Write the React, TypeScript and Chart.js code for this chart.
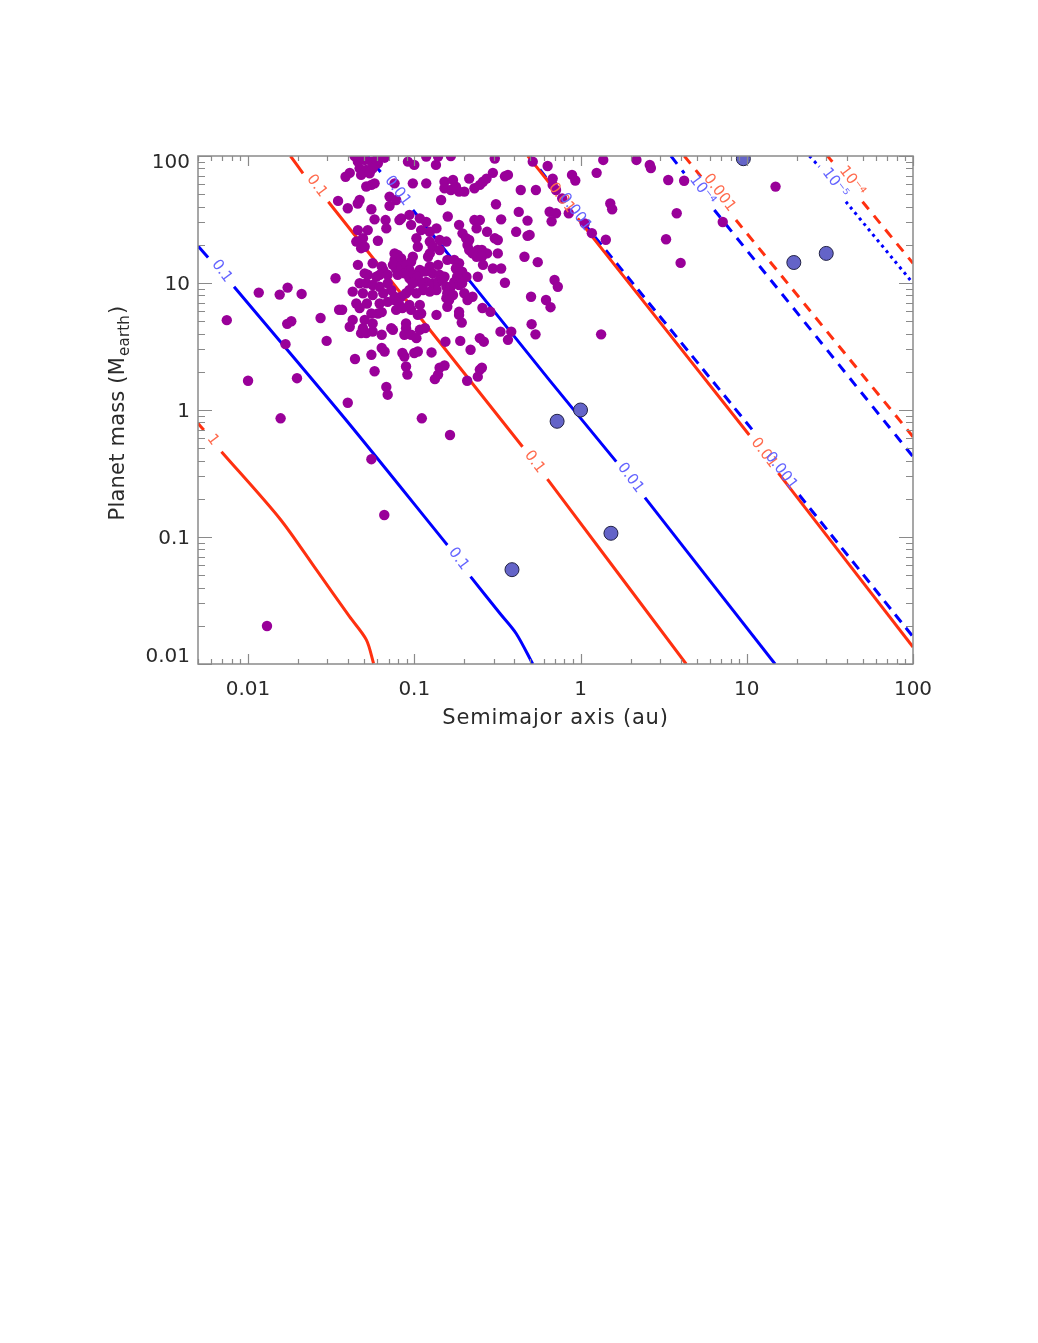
import React, { useEffect, useRef } from "react";
import { Chart, registerables } from "chart.js";

Chart.register(...registerables);

// ---------------- axes ----------------
const xRange = [0.005, 100];
const yRange = [0.01, 100];
const xTicks = [0.01, 0.1, 1, 10, 100];
const xTickLabels = ["0.01", "0.1", "1", "10", "100"];
const yTicks = [0.01, 0.1, 1, 10, 100];
const yTickLabels = ["0.01", "0.1", "1", "10", "100"];
const xTitle = "Semimajor axis (au)";
const yTitleMain = "Planet mass (M";
const yTitleSub = "earth";
const yTitleEnd = ")";

// ---------------- exoplanets (a [au], M [M_earth]) ----------------
const exoplanets: [number, number][] = [
  [0.00745, 5.1], [0.0116, 8.4], [0.0155, 8.1], [0.0173, 9.2], [0.021, 8.2], [0.0273, 5.3],
  [0.0172, 4.77], [0.0182, 5.0], [0.0297, 3.5], [0.0168, 3.3], [0.01, 1.7], [0.0197, 1.78],
  [0.0157, 0.86], [0.0336, 10.9], [0.0348, 44.3], [0.0386, 68.6], [0.0409, 73.6], [0.0398, 1.14],
  [0.0552, 0.41], [0.066, 0.149], [0.013, 0.0199], [0.0353, 6.16], [0.0368, 6.16], [0.044, 2.52],
  [0.111, 0.86], [0.164, 0.636],
  [0.0458, 90.3], [0.0503, 93.1], [0.0552, 90.3], [0.0604, 87.5], [0.0469, 80.0], [0.0514, 77.6],
  [0.0563, 80.0], [0.0479, 71.0], [0.0539, 73.2], [0.0591, 93.1], [0.0437, 100], [0.0663, 97],
  [0.048, 98],
  [0.0514, 57.5], [0.0552, 59.2], [0.0577, 60.9], [0.0761, 60.9], [0.0916, 90.3], [0.1, 85.1],
  [0.118, 99], [0.135, 85.1], [0.139, 99], [0.098, 60.9], [0.118, 60.9], [0.152, 62.7],
  [0.0398, 38.8], [0.0457, 42.3], [0.0469, 45.0], [0.0552, 38.1], [0.071, 47.9], [0.0778, 45.0],
  [0.071, 40.5], [0.0577, 31.7], [0.0672, 31.3], [0.0679, 26.9], [0.0814, 31.3], [0.0834, 32.3],
  [0.0935, 34.4], [0.0957, 28.7],
  [0.108, 32.3], [0.118, 30.3], [0.11, 26.1], [0.124, 25.3], [0.136, 26.9], [0.145, 45.0],
  [0.159, 33.4], [0.0458, 26.1], [0.0525, 26.1], [0.0491, 22.5], [0.0448, 21.2], [0.0479, 18.8],
  [0.0503, 19.3], [0.0604, 21.5], [0.103, 22.5], [0.105, 19.3], [0.124, 21.2], [0.129, 19.3],
  [0.142, 21.8], [0.0761, 17.1], [0.0795, 16.6], [0.0761, 15.2], [0.0834, 15.6], [0.098, 16.1],
  [0.0957, 14.7], [0.121, 16.1], [0.124, 17.1], [0.142, 18.2],
  [0.0562, 14.3], [0.0458, 13.9], [0.0637, 13.5], [0.0651, 12.66], [0.0744, 13.9], [0.0778, 12.9],
  [0.0834, 13.5], [0.0892, 13.9], [0.0935, 12.66], [0.0872, 11.9], [0.0795, 11.6], [0.0935, 10.9],
  [0.1, 11.6], [0.108, 12.66], [0.105, 11.2], [0.116, 12.3], [0.124, 13.5], [0.129, 11.9],
  [0.139, 13.9], [0.142, 11.6], [0.118, 10.2], [0.108, 10.2], [0.098, 9.95], [0.129, 9.95],
  [0.139, 10.2], [0.148, 10.55], [0.156, 9.35], [0.136, 8.81], [0.124, 8.55], [0.113, 8.81],
  [0.103, 8.3], [0.0935, 8.81], [0.0892, 8.3], [0.0834, 7.8], [0.0761, 7.8], [0.0503, 11.9],
  [0.0525, 11.6], [0.0591, 11.2], [0.0619, 11.6], [0.0692, 11.6], [0.0469, 9.95], [0.0514, 9.95],
  [0.0562, 9.64], [0.0619, 9.35], [0.0692, 9.95], [0.0426, 8.55], [0.0491, 8.3], [0.0562, 8.05],
  [0.0651, 8.3], [0.0727, 8.81], [0.158, 15.2], [0.152, 11.2], [0.158, 8.3],
  [0.156, 7.6], [0.0448, 6.9], [0.0469, 6.35], [0.0519, 6.9], [0.0619, 6.9], [0.0637, 5.9],
  [0.0604, 5.75], [0.0692, 7.1], [0.0761, 7.35], [0.0814, 6.72], [0.0778, 6.14], [0.0848, 6.35],
  [0.0935, 6.72], [0.0957, 6.14], [0.108, 6.72], [0.11, 5.75], [0.105, 5.61], [0.136, 5.61],
  [0.158, 6.5], [0.0552, 5.75], [0.0426, 5.12], [0.0409, 4.52], [0.0503, 5.12], [0.0562, 4.8],
  [0.0491, 4.41], [0.0479, 4.03], [0.0514, 4.03], [0.0562, 4.15], [0.0637, 3.91], [0.0727, 4.41],
  [0.0744, 4.28], [0.0892, 4.8], [0.0892, 4.41], [0.0872, 3.91], [0.0957, 3.91], [0.103, 3.68],
  [0.108, 4.28], [0.116, 4.41], [0.154, 3.45], [0.0637, 3.08], [0.0663, 2.89], [0.0552, 2.72],
  [0.0848, 2.81], [0.0872, 2.64], [0.1, 2.81], [0.105, 2.89], [0.127, 2.84], [0.0577, 2.02],
  [0.0892, 2.2], [0.0909, 1.9], [0.142, 2.15], [0.152, 2.24], [0.139, 1.9], [0.133, 1.75],
  [0.0679, 1.52], [0.0692, 1.32],
  [0.166, 100], [0.305, 95.5], [0.152, 55.7], [0.166, 54.0], [0.178, 57.4], [0.171, 64.7],
  [0.186, 52.4], [0.2, 52.4], [0.214, 66.4], [0.23, 55.7], [0.248, 59.2], [0.259, 62.7],
  [0.272, 66.4], [0.297, 73.7], [0.351, 69.2], [0.366, 71.0], [0.437, 54.0], [0.539, 54.0],
  [0.31, 41.7], [0.186, 28.7], [0.23, 31.3], [0.248, 31.3], [0.237, 26.9], [0.274, 25.3],
  [0.333, 31.7], [0.425, 36.3], [0.48, 31.0], [0.41, 25.3], [0.48, 23.5], [0.494, 23.9],
  [0.305, 22.5], [0.318, 21.8], [0.195, 24.6], [0.205, 22.5], [0.214, 21.8], [0.209, 19.9],
  [0.214, 18.2], [0.224, 17.1], [0.241, 18.2], [0.255, 18.2], [0.274, 17.1], [0.237, 16.1],
  [0.255, 16.1], [0.318, 17.1], [0.156, 21.2], [0.46, 16.1], [0.553, 14.6], [0.259, 13.9],
  [0.297, 13.0], [0.333, 13.0], [0.174, 15.2], [0.186, 14.3], [0.178, 13.0], [0.194, 12.3],
  [0.206, 11.2], [0.181, 11.2], [0.174, 10.2], [0.186, 9.64], [0.194, 9.95], [0.241, 11.2],
  [0.351, 10.05], [0.166, 9.35], [0.162, 8.55], [0.2, 8.3], [0.224, 7.8], [0.504, 7.8],
  [0.62, 7.35], [0.698, 10.55], [0.73, 9.35],
  [0.171, 8.05], [0.162, 7.35], [0.186, 5.93], [0.186, 5.61], [0.193, 4.88], [0.209, 7.35],
  [0.257, 6.35], [0.287, 5.93], [0.66, 6.45], [0.508, 4.74], [0.536, 3.94], [0.33, 4.14],
  [0.366, 3.57], [0.383, 4.14], [0.189, 3.5], [0.218, 2.98], [0.248, 3.68], [0.262, 3.45],
  [0.248, 2.08], [0.255, 2.15], [0.241, 1.83], [0.208, 1.7],
  [0.516, 90.3], [0.634, 83.4], [0.68, 66.4], [0.68, 59.2], [0.712, 54.0], [0.889, 71.0],
  [0.93, 64.1], [1.25, 73.7], [1.37, 93.1], [0.776, 46.4], [0.652, 36.4], [0.712, 35.4],
  [0.67, 30.6], [0.85, 35.4], [1.06, 29.5], [1.17, 24.7], [1.42, 21.9], [1.51, 42.3],
  [1.55, 38.1], [2.17, 93.1], [2.61, 85.1], [2.65, 80.4], [3.37, 64.7], [4.2, 63.9],
  [3.79, 35.4], [3.27, 22.1], [4.0, 14.4], [7.17, 30.2], [14.9, 57.4], [1.33, 3.94],
];

// ---------------- solar system planets ----------------
const solarPlanets: [number, number][] = [
  [0.387, 0.0553], [0.723, 0.815], [1.0, 1.0], [1.524, 0.107],
  [9.54, 95.2], [19.19, 14.5], [30.07, 17.1],
];

// ---------------- contour lines (segments broken by labels) ----------------
type Seg = [number, number][];
const redSolid1: Seg[] = [
  [[0.005, 0.785], [0.00542, 0.697]],
  [[0.00692, 0.47], [0.0155, 0.14], [0.0258, 0.055], [0.0408, 0.0236], [0.0515, 0.0155], [0.0569, 0.0101]],
];
const redSolid01: Seg[] = [
  [[0.018, 100], [0.0214, 73.1]],
  [[0.0304, 43.6], [0.448, 0.514]],
  [[0.632, 0.286], [4.32, 0.01]],
];
const redSolid001: Seg[] = [
  [[0.482, 100], [0.652, 61.0]],
  [[0.962, 32.3], [10.35, 0.635]],
  [[15.5, 0.318], [100, 0.0136]],
];
const blueSolid01: Seg[] = [
  [[0.005, 19.6], [0.00575, 15.9]],
  [[0.00824, 9.35], [0.0381, 0.861], [0.158, 0.0865]],
  [[0.218, 0.0487], [0.327, 0.0251], [0.41, 0.0174], [0.516, 0.01]],
];
const blueSolid001: Seg[] = [
  [[0.0524, 100], [0.0627, 74.8]],
  [[0.0981, 37.6], [0.65, 1.72], [1.64, 0.392]],
  [[2.44, 0.204], [14.8, 0.01]],
];
const blueDashed0001: Seg[] = [
  [[0.493, 100], [0.708, 54.0]],
  [[1.055, 29.2], [11.2, 0.659]],
  [[20.7, 0.214], [100, 0.0164]],
];
const redDashed0001: Seg[] = [
  [[4.21, 100], [5.31, 68.7]],
  [[8.61, 31.3], [100, 0.616]],
];
const blueDashed1e4: Seg[] = [
  [[3.5, 100], [4.21, 73.1]],
  [[6.38, 37.6], [100, 0.429]],
];
const redDashed1e4: Seg[] = [
  [[30.6, 100], [32.7, 90.2]],
  [[49.7, 43.6], [100, 14.3]],
];
const blueDotted1e5: Seg[] = [
  [[23.8, 100], [27.3, 82.4]],
  [[39.5, 43.6], [100, 9.95]],
];

// ---------------- contour labels ----------------
const redLabels = [
  { t: "1", x: 0.00613, y: 0.58 },
  { t: "0.1", x: 0.0259, y: 58.0 },
  { t: "0.1", x: 0.528, y: 0.39 },
  { t: "0.01", x: 0.768, y: 46.7 },
  { t: "0.01", x: 12.7, y: 0.459 },
  { t: "0.001", x: 6.84, y: 51.2 },
  { t: "10\u207B\u2074", x: 43.0, y: 63.5 },
];
const blueLabels = [
  { t: "0.1", x: 0.00695, y: 12.4 },
  { t: "0.1", x: 0.1846, y: 0.0671 },
  { t: "0.01", x: 0.0794, y: 53.0 },
  { t: "0.01", x: 1.995, y: 0.292 },
  { t: "0.001", x: 0.931, y: 36.2 },
  { t: "0.001", x: 16.1, y: 0.331 },
  { t: "10\u207B\u2074", x: 5.4, y: 54.0 },
  { t: "10\u207B\u2075", x: 34.0, y: 61.3 },
];

// ---------------- styles ----------------
const RED = "#ff3010";
const BLUE = "#0000ff";
const RED_LABEL = "#ff6a4d";
const BLUE_LABEL = "#6464ff";
const PURPLE = "#990099";
const SOLAR_FILL = "#6464c8";
const AXIS_COLOR = "#8a8a8a";
const TEXT_COLOR = "#2a2a2a";
const FONT = '"DejaVu Sans", sans-serif';
const LABEL_ANGLE = (53 * Math.PI) / 180;

const decorPlugin = {
  id: "decor",
  afterDatasetsDraw(chart: any) {
    const { ctx, scales } = chart;
    const xs = scales.x;
    const ys = scales.y;
    ctx.save();
    ctx.font = `15px ${FONT}`;
    ctx.textAlign = "center";
    ctx.textBaseline = "middle";
    const groups: [typeof redLabels, string][] = [
      [redLabels, RED_LABEL],
      [blueLabels, BLUE_LABEL],
    ];
    for (const [list, color] of groups) {
      ctx.fillStyle = color;
      for (const l of list) {
        const px = xs.getPixelForValue(l.x);
        const py = ys.getPixelForValue(l.y);
        ctx.save();
        ctx.translate(px, py);
        ctx.rotate(LABEL_ANGLE);
        ctx.fillText(l.t, 0, 0);
        ctx.restore();
      }
    }
    ctx.restore();
  },
  afterDraw(chart: any) {
    const { ctx, chartArea: a, scales } = chart;
    const xs = scales.x;
    const ys = scales.y;
    ctx.save();
    ctx.strokeStyle = AXIS_COLOR;
    ctx.lineWidth = 1.5;
    ctx.strokeRect(a.left, a.top, a.right - a.left, a.bottom - a.top);
    ctx.lineWidth = 1.2;
    ctx.beginPath();
    for (let d = -3; d <= 2; d++) {
      for (let k = 1; k <= 9; k++) {
        const v = k * Math.pow(10, d);
        if (v >= xRange[0] * 0.999 && v <= xRange[1] * 1.001) {
          const px = Math.round(xs.getPixelForValue(v)) + 0.5;
          const len = k === 1 ? 10 : 5;
          ctx.moveTo(px, a.bottom);
          ctx.lineTo(px, a.bottom - len);
          ctx.moveTo(px, a.top);
          ctx.lineTo(px, a.top + len);
        }
        if (v >= yRange[0] * 0.999 && v <= yRange[1] * 1.001) {
          const py = Math.round(ys.getPixelForValue(v)) + 0.5;
          const len = k === 1 ? 14 : 7;
          ctx.moveTo(a.left, py);
          ctx.lineTo(a.left + len, py);
          ctx.moveTo(a.right, py);
          ctx.lineTo(a.right - len, py);
        }
      }
    }
    ctx.stroke();

    // y tick labels (kept inside the axis span like the original)
    ctx.fillStyle = TEXT_COLOR;
    ctx.font = `20px ${FONT}`;
    ctx.textAlign = "right";
    ctx.textBaseline = "middle";
    yTicks.forEach((v, i) => {
      const py = ys.getPixelForValue(v) + 1.5;
      const cy = Math.min(Math.max(py, a.top + 7), a.bottom - 7);
      ctx.fillText(yTickLabels[i], a.left - 8, cy);
    });

    // axis titles
    ctx.textBaseline = "alphabetic";
    (ctx as any).letterSpacing = "0.8px";
    ctx.font = `21px ${FONT}`;
    ctx.textAlign = "center";
    ctx.fillText(xTitle, (a.left + a.right) / 2, 724);

    // y title with subscript
    (ctx as any).letterSpacing = "0.2px";
    const mainFont = `21px ${FONT}`;
    const subFont = `15px ${FONT}`;
    ctx.font = mainFont;
    const w1 = ctx.measureText(yTitleMain).width;
    const w3 = ctx.measureText(yTitleEnd).width;
    ctx.font = subFont;
    const w2 = ctx.measureText(yTitleSub).width;
    const total = w1 + w2 + w3 + 2;
    ctx.save();
    ctx.translate(124, (a.top + a.bottom) / 2 + 3);
    ctx.rotate(-Math.PI / 2);
    ctx.textAlign = "left";
    let x0 = -total / 2;
    ctx.font = mainFont;
    ctx.fillText(yTitleMain, x0, 0);
    x0 += w1 + 1;
    ctx.font = subFont;
    ctx.fillText(yTitleSub, x0, 5);
    x0 += w2 + 1;
    ctx.font = mainFont;
    ctx.fillText(yTitleEnd, x0, 0);
    ctx.restore();
    ctx.restore();
  },
};

function lineSets(segs: Seg[], color: string, dash: number[]) {
  return segs.map((seg) => ({
    type: "line" as const,
    data: seg.map(([x, y]) => ({ x, y })),
    borderColor: color,
    borderWidth: 3,
    borderDash: dash,
    borderCapStyle: "butt" as const,
    pointRadius: 0,
    fill: false,
    tension: 0.3,
    order: 2,
  }));
}

export default function App() {
  const ref = useRef<HTMLCanvasElement | null>(null);

  useEffect(() => {
    if (!ref.current) return;
    const datasets: any[] = [
      {
        type: "scatter",
        data: solarPlanets.map(([x, y]) => ({ x, y })),
        backgroundColor: SOLAR_FILL,
        borderColor: "#222244",
        borderWidth: 1,
        pointRadius: 7,
        order: 0,
      },
      {
        type: "scatter",
        data: exoplanets.map(([x, y]) => ({ x, y })),
        backgroundColor: PURPLE,
        borderWidth: 0,
        pointRadius: 5.2,
        order: 1,
      },
      ...lineSets(redSolid1, RED, []),
      ...lineSets(redSolid01, RED, []),
      ...lineSets(redSolid001, RED, []),
      ...lineSets(blueSolid01, BLUE, []),
      ...lineSets(blueSolid001, BLUE, []),
      ...lineSets(blueDashed0001, BLUE, [10, 7]),
      ...lineSets(redDashed0001, RED, [10, 8]),
      ...lineSets(blueDashed1e4, BLUE, [10, 8]),
      ...lineSets(redDashed1e4, RED, [10, 8]),
      ...lineSets(blueDotted1e5, BLUE, [3, 4]),
    ];

    const chart = new Chart(ref.current, {
      type: "scatter",
      data: { datasets },
      options: {
        animation: false,
        responsive: false,
        devicePixelRatio: 1,
        events: [],
        layout: { padding: { left: 0, right: 125, top: 156, bottom: 0 } },
        plugins: {
          legend: { display: false },
          tooltip: { enabled: false },
          title: { display: false },
        },
        scales: {
          x: {
            type: "logarithmic",
            position: "bottom",
            min: xRange[0],
            max: xRange[1],
            grid: { display: false, drawTicks: false },
            border: { display: false },
            ticks: {
              font: { family: FONT, size: 20 },
              color: TEXT_COLOR,
              padding: 14,
              maxRotation: 0,
              autoSkip: false,
              callback: (v: any) => {
                const i = xTicks.indexOf(Number(v));
                return i >= 0 ? xTickLabels[i] : "";
              },
            },
            afterBuildTicks: (s: any) => {
              s.ticks = xTicks.map((v) => ({ value: v }));
            },
            afterFit: (s: any) => {
              s.height = 679;
            },
          },
          y: {
            type: "logarithmic",
            position: "left",
            min: yRange[0],
            max: yRange[1],
            grid: { display: false, drawTicks: false },
            border: { display: false },
            ticks: { display: false },
            afterBuildTicks: (s: any) => {
              s.ticks = yTicks.map((v) => ({ value: v }));
            },
            afterFit: (s: any) => {
              s.width = 198;
            },
          },
        },
      } as any,
      plugins: [decorPlugin],
    });
    return () => chart.destroy();
  }, []);

  return (
    <div style={{ position: "absolute", left: 0, top: 0, width: 1038, height: 1343, background: "#fff" }}>
      <canvas ref={ref} width={1038} height={1343} style={{ width: 1038, height: 1343, display: "block" }} />
    </div>
  );
}
